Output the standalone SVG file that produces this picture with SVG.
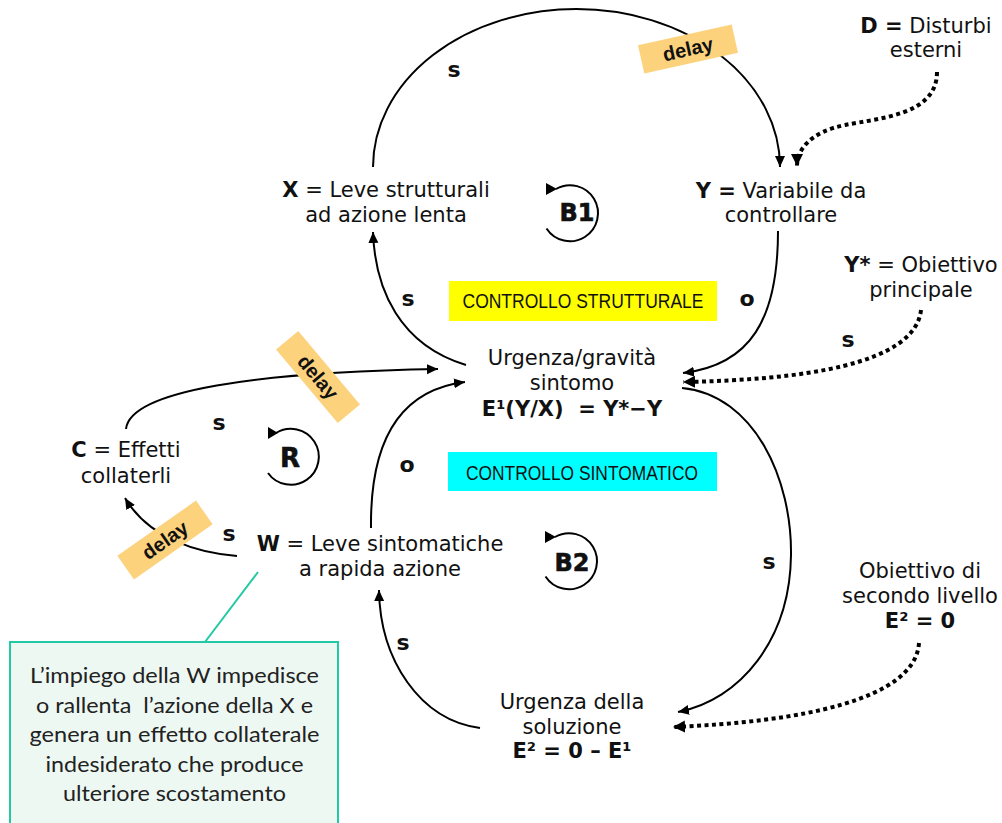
<svg xmlns="http://www.w3.org/2000/svg" width="1002" height="823" viewBox="0 0 1002 823">
<defs>
<style>
.t{font-family:"DejaVu Sans",Verdana,sans-serif;font-size:21px;fill:#111;text-anchor:middle}
.b{font-weight:bold}
.lbl{font-family:"DejaVu Sans",Verdana,sans-serif;font-size:22px;font-weight:bold;fill:#111;text-anchor:middle}
.loop{font-family:"DejaVu Sans",Verdana,sans-serif;font-weight:bold;fill:#111;stroke:#111;stroke-width:0.6;text-anchor:middle}
.ln{fill:none;stroke:#000;stroke-width:2}
.dot{fill:none;stroke:#000;stroke-width:4;stroke-dasharray:4 3.5}
.dl rect{fill:#fdd27d}
.dl text{font-family:"Liberation Sans",Arial,sans-serif;font-size:20px;font-weight:bold;fill:#111;text-anchor:middle}
.ban{font-family:"Liberation Sans",Arial,sans-serif;font-size:20px;fill:#111;text-anchor:middle}
.cl{font-family:Lato,"Open Sans",sans-serif;font-size:22px;fill:#222;text-anchor:middle;white-space:pre}
</style>
<marker id="ah" markerUnits="userSpaceOnUse" markerWidth="12" markerHeight="12" refX="11" refY="5" orient="auto"><path d="M0,0 L11,5 L0,10 z" fill="#000"/></marker>
<marker id="ahd" markerUnits="userSpaceOnUse" markerWidth="13" markerHeight="13" refX="12" refY="6" orient="auto"><path d="M0,0 L12,6 L0,12 z" fill="#000"/></marker>
</defs>
<rect width="1002" height="823" fill="#fff"/>

<g id="connectors">
<path class="ln" d="M373,167 A203.5,158 0 0 1 780,167" marker-end="url(#ah)"/>
<path class="ln" d="M778,231 C778,320 750,365 683,373" marker-end="url(#ah)"/>
<path class="ln" d="M466,365 C400,345 375,290 373,232" marker-end="url(#ah)"/>
<path class="dot" d="M937,72 C937,115 880,118 845,125 C810,132 797,150 797,166" marker-end="url(#ahd)"/>
<path class="dot" d="M921,310 C915,365 800,380 683,382" marker-end="url(#ahd)"/>
<path class="ln" d="M682,388 C755,395 792,480 791,555 C790,640 740,700 678,712" marker-end="url(#ah)"/>
<path class="dot" d="M919,643 C915,700 800,722 673,727" marker-end="url(#ahd)"/>
<path class="ln" d="M480,728 C420,720 380,660 379,590" marker-end="url(#ah)"/>
<path class="ln" d="M371,528 C370,440 400,390 465,382" marker-end="url(#ah)"/>
<path class="ln" d="M237,556 C200,553 150,540 125,498" marker-end="url(#ah)"/>
<path class="ln" d="M126,429 C130,390 260,372 438,369" marker-end="url(#ah)"/>
<path d="M258,572 L205,642" stroke="#22c9a2" stroke-width="2" fill="none"/>
</g>

<g id="polarities">
<text class="lbl" x="454" y="77">s</text>
<text class="lbl" x="747" y="306">o</text>
<text class="lbl" x="408" y="306">s</text>
<text class="lbl" x="848" y="347">s</text>
<text class="lbl" x="219" y="430">s</text>
<text class="lbl" x="407" y="472">o</text>
<text class="lbl" x="229" y="541">s</text>
<text class="lbl" x="403" y="650">s</text>
<text class="lbl" x="769" y="569">s</text>
</g>

<g id="delays" class="dl">
<g transform="translate(688,49) rotate(-12.6)"><rect x="-48" y="-14.5" width="96" height="29"/><text x="0" y="7">delay</text></g>
<g transform="translate(318,377) rotate(50)"><rect x="-48" y="-14.5" width="96" height="29"/><text x="0" y="7">delay</text></g>
<g transform="translate(165,540) rotate(-35)"><rect x="-48" y="-14.5" width="96" height="29"/><text x="0" y="7">delay</text></g>
</g>

<g id="banner-strutturale">
<rect x="449" y="281" width="268" height="40" fill="#ffff00"/>
<text class="ban" x="583" y="308" textLength="241" lengthAdjust="spacingAndGlyphs">CONTROLLO STRUTTURALE</text>
</g>
<g id="banner-sintomatico">
<rect x="448" y="452" width="269" height="39" fill="#00ffff"/>
<text class="ban" x="582" y="480" textLength="232" lengthAdjust="spacingAndGlyphs">CONTROLLO SINTOMATICO</text>
</g>

<g id="loop-B1">
<path class="ln" d="M556,189 A28,28 0 1 1 546.5,228.5"/>
<polygon points="546,183 546,195 557,189" fill="#000"/>
<text class="loop" x="577" y="221" font-size="24">B1</text>
</g>
<g id="loop-R">
<path class="ln" d="M276,433 A28,28 0 1 1 268,473"/>
<polygon points="268,427 268,439 278,433" fill="#000"/>
<text class="loop" x="290" y="467" font-size="26">R</text>
</g>
<g id="loop-B2">
<path class="ln" d="M555,537 A28,28 0 1 1 545.5,576.5"/>
<polygon points="545,531 545,543 556,537" fill="#000"/>
<text class="loop" x="572" y="571" font-size="24">B2</text>
</g>

<g id="node-X">
<text class="t" x="386" y="197"><tspan class="b">X</tspan> = Leve strutturali</text>
<text class="t" x="386" y="222">ad azione lenta</text>
</g>
<g id="node-Y">
<text class="t" x="781" y="198"><tspan class="b">Y =</tspan> Variabile da</text>
<text class="t" x="781" y="222">controllare</text>
</g>
<g id="node-D">
<text class="t" x="926" y="33"><tspan class="b">D =</tspan> Disturbi</text>
<text class="t" x="926" y="57">esterni</text>
</g>
<g id="node-Ystar">
<text class="t" x="921" y="272"><tspan class="b">Y*</tspan> = Obiettivo</text>
<text class="t" x="921" y="297">principale</text>
</g>
<g id="node-E1">
<text class="t" x="572" y="365">Urgenza/gravità</text>
<text class="t" x="572" y="390">sintomo</text>
<text class="t b" x="572" y="416" style="white-space:pre">E¹(Y/X)  = Y*−Y</text>
</g>
<g id="node-C">
<text class="t" x="126" y="457"><tspan class="b">C</tspan> = Effetti</text>
<text class="t" x="126" y="483">collaterli</text>
</g>
<g id="node-W">
<text class="t" x="380" y="551"><tspan class="b">W</tspan> = Leve sintomatiche</text>
<text class="t" x="380" y="576">a rapida azione</text>
</g>
<g id="node-E2goal">
<text class="t" x="920" y="578">Obiettivo di</text>
<text class="t" x="920" y="603">secondo livello</text>
<text class="t b" x="920" y="628">E² = 0</text>
</g>
<g id="node-E2">
<text class="t" x="572" y="709">Urgenza della</text>
<text class="t" x="572" y="734">soluzione</text>
<text class="t b" x="572" y="758">E² = 0 – E¹</text>
</g>

<g id="callout">
<rect x="10" y="642" width="328" height="190" fill="#eef8f3" stroke="#22c9a2" stroke-width="2"/>
<text class="cl" x="174.5" y="683" textLength="289" lengthAdjust="spacingAndGlyphs">L’impiego della W impedisce</text>
<text class="cl" x="174.5" y="712.5" textLength="277" lengthAdjust="spacingAndGlyphs">o rallenta  l’azione della X e</text>
<text class="cl" x="174.5" y="742" textLength="290" lengthAdjust="spacingAndGlyphs">genera un effetto collaterale</text>
<text class="cl" x="174.5" y="771.5" textLength="258" lengthAdjust="spacingAndGlyphs">indesiderato che produce</text>
<text class="cl" x="174.5" y="801" textLength="223" lengthAdjust="spacingAndGlyphs">ulteriore scostamento</text>
</g>
</svg>
